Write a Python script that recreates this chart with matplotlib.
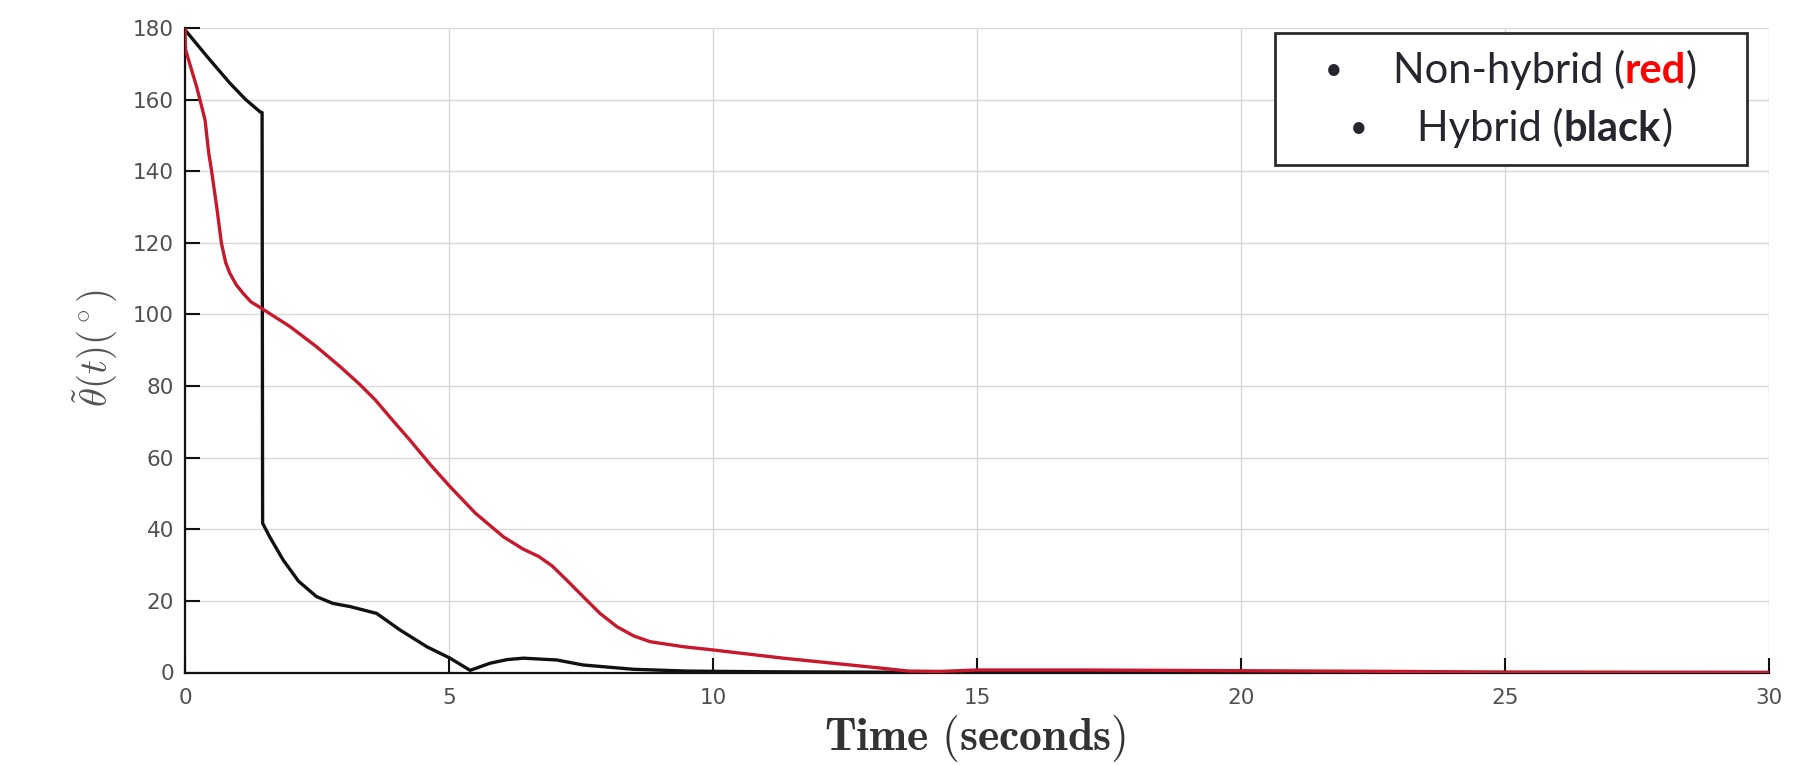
import matplotlib
matplotlib.use('Agg')
import matplotlib.pyplot as plt
from matplotlib.offsetbox import TextArea, HPacker, VPacker, AnchoredOffsetbox
from matplotlib.patches import Rectangle

plt.rcParams['mathtext.fontset'] = 'cm'

# Hybrid (black): switches at t ~ 1.46 s
t_hybrid = [0, 0.42, 0.85, 1.15, 1.42, 1.46, 1.47, 1.6, 1.86, 2.15, 2.49, 2.8, 3.13, 3.63,
            4.07, 4.58, 5.02, 5.4, 5.78, 6.1, 6.41, 7.04, 7.54, 8.49, 9.5, 11.0, 14.0, 20.0, 30.0]
theta_hybrid = [179.5, 172, 164.6, 160, 156.6, 156.4, 41.7, 38, 31.4, 25.5, 21.2, 19.3, 18.4, 16.5,
                11.9, 7.2, 4.0, 0.6, 2.6, 3.6, 4.0, 3.5, 2.1, 0.9, 0.4, 0.2, 0.05, 0, 0]

# Non-hybrid (red)
t_nonhybrid = [0, 0.01, 0.1, 0.22, 0.3, 0.38, 0.45, 0.5, 0.6, 0.69, 0.77, 0.85, 0.97, 1.1,
               1.25, 1.45, 1.99, 2.49, 2.94, 3.3, 3.6, 3.9, 4.26, 4.65, 5.02, 5.5, 6.03,
               6.4, 6.7, 6.95, 7.23, 7.54, 7.86, 8.18, 8.5, 8.81, 9.44, 10.0, 11.33, 12.6,
               13.2, 13.7, 14.3, 15.0, 17.0, 20.0, 23.0, 25.0, 30.0]
theta_nonhybrid = [180, 174, 169.5, 163.6, 159, 154.3, 145, 140.4, 130.1, 119.9, 114.5, 111.5, 108.3, 105.9,
                   103.5, 101.7, 96.6, 91, 85.4, 80.6, 76.2, 71, 64.9, 58, 51.9, 44.5, 37.9,
                   34.5, 32.4, 29.8, 25.8, 21.2, 16.5, 12.8, 10.2, 8.6, 7.2, 6.3, 4.0, 2.1,
                   1.2, 0.4, 0.3, 0.7, 0.7, 0.5, 0.3, 0.1, 0]

x_ticks = [0, 5, 10, 15, 20, 25, 30]
y_ticks = [0, 20, 40, 60, 80, 100, 120, 140, 160, 180]

fig = plt.figure(figsize=(18.2, 7.65), dpi=100)
ax = fig.add_axes([185 / 1820, 1 - 672.5 / 765, (1769 - 185) / 1820, (672.5 - 28) / 765])

ax.plot(t_hybrid, theta_hybrid, color='#111111', linewidth=2.4, zorder=3,
        solid_joinstyle='round')
ax.plot(t_nonhybrid, theta_nonhybrid, color='#c8182c', linewidth=2.4, zorder=4,
        solid_joinstyle='round')

ax.set_xlim(0, 30)
ax.set_ylim(0, 180)
ax.set_xticks(x_ticks)
ax.set_yticks(y_ticks)
ax.grid(True, color='#d8d8d8', linewidth=1.0)
ax.set_axisbelow(True)

for side in ['top', 'right']:
    ax.spines[side].set_visible(False)
for side in ['left', 'bottom']:
    ax.spines[side].set_linewidth(1.6)
    ax.spines[side].set_color('#111111')

ax.tick_params(direction='in', length=11, width=1.5, colors='#111111',
               labelsize=15.5, labelcolor='#505050')
ax.tick_params(axis='x', pad=11)
ax.tick_params(axis='y', pad=8)

fig.text(95 / 1820, 1 - 348 / 765, r'$\tilde{\theta}(t)(^\circ)$', rotation=90,
         ha='center', va='center', fontsize=28, color='#555555')
fig.text(975 / 1820, 1 - 738 / 765, r'$\mathbf{Time\ (seconds)}$',
         ha='center', va='center', fontsize=33, color='#333333')

# legend-like text box
box_l, box_r, box_t, box_b = 1275, 1747, 33, 165
fig.patches.append(Rectangle((box_l / 1820, 1 - box_b / 765), (box_r - box_l) / 1820,
                             (box_b - box_t) / 765, transform=fig.transFigure,
                             facecolor='white', edgecolor='#2a2a30', linewidth=2, zorder=5))

txt = dict(fontsize=30, family='Lato', color='#26262e')
dot = dict(fontsize=22, family='Lato', color='#26262e')
bold_red = dict(fontsize=30, family='Lato', color='#ff0000', fontweight='bold')
bold_blk = dict(fontsize=30, family='Lato', color='#26262e', fontweight='bold')

row1 = HPacker(children=[
    TextArea('•', textprops=dot),
    HPacker(children=[TextArea('Non-hybrid (', textprops=txt),
                      TextArea('red', textprops=bold_red),
                      TextArea(')', textprops=txt)], sep=0, pad=0)
], sep=36, pad=0, align='center')
row2 = HPacker(children=[
    TextArea('•', textprops=dot),
    HPacker(children=[TextArea('Hybrid (', textprops=txt),
                      TextArea('black', textprops=bold_blk),
                      TextArea(')', textprops=txt)], sep=0, pad=0)
], sep=36, pad=0, align='center')
rows = VPacker(children=[row1, row2], sep=13, pad=0, align='center')

anch = AnchoredOffsetbox(loc='center', child=rows, frameon=False, pad=0, borderpad=0,
                         bbox_to_anchor=((box_l + box_r) / 2 / 1820, 1 - (box_t + box_b) / 2 / 765),
                         bbox_transform=fig.transFigure)
anch.set_zorder(6)
fig.add_artist(anch)

fig.savefig('out.png', dpi=100)
